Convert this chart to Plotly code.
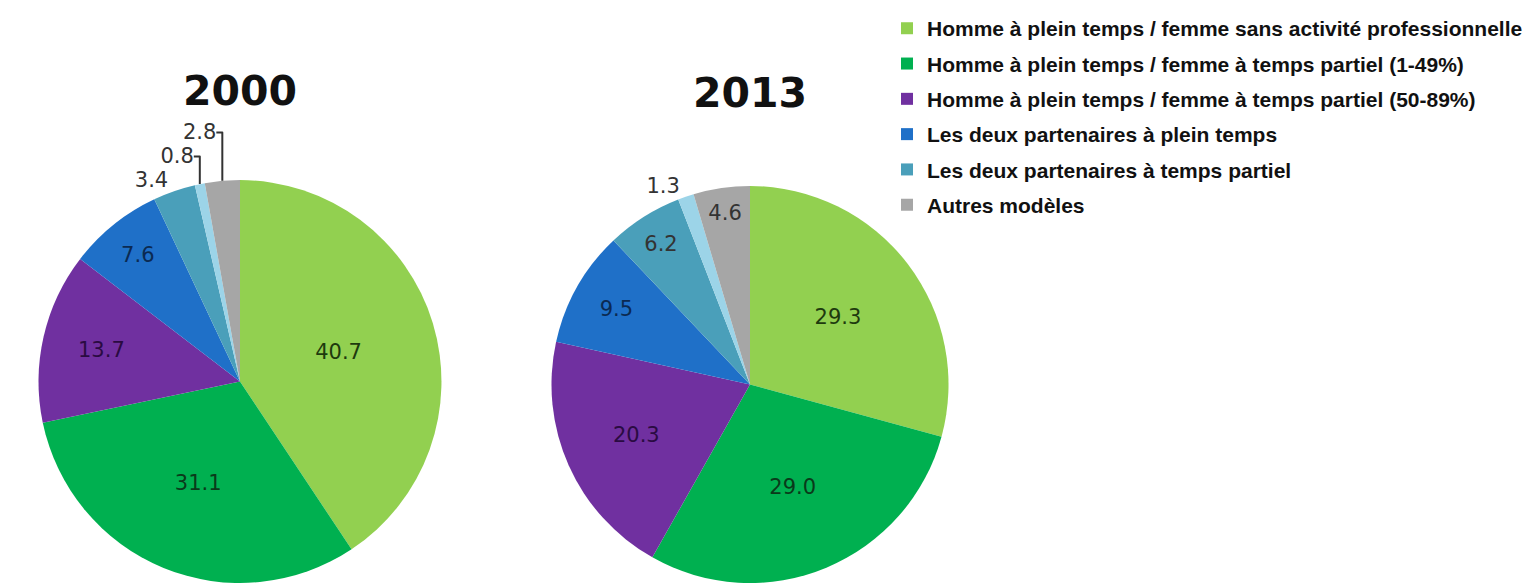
import plotly.graph_objects as go

categories = [
    "Homme à plein temps / femme sans activité professionnelle",
    "Homme à plein temps / femme à temps partiel (1-49%)",
    "Homme à plein temps / femme à temps partiel (50-89%)",
    "Les deux partenaires à plein temps",
    "Les deux partenaires à temps partiel",
    "Autre",
    "Autres modèles",
]
legend_flags = [True, True, True, True, True, False, True]
values_2000 = [40.7, 31.1, 13.7, 7.6, 3.4, 0.8, 2.8]
values_2013 = [29.3, 29.0, 20.3, 9.5, 6.2, 1.3, 4.6]
pos_2000 = ["inside", "inside", "inside", "inside", "outside", "outside", "outside"]
pos_2013 = ["inside", "inside", "inside", "inside", "inside", "outside", "inside"]
years = ["2000", "2013"]

colors = ["#92D050", "#00B050", "#7030A0", "#1F70C8", "#4A9FBA", "#9CD4E8", "#A6A6A6"]
text_colors = ["#1E3A0E", "#0A3A1A", "#2A0B42", "#0B2A52", "#333333", "#333333", "#333333"]

# page body has an 8px margin: figure coordinates are screen coordinates minus 8
W, H = 1530, 580

def dom(cx, cy, r):
    return dict(x=[(cx - r) / W, (cx + r) / W],
                y=[max(0, 1 - (cy + r) / H), min(1, 1 - (cy - r) / H)])

fig = go.Figure()
for vals, pos, (cx, cy, r) in [(values_2000, pos_2000, (232, 375, 205)),
                               (values_2013, pos_2013, (742, 378, 202))]:
    fig.add_trace(go.Pie(
        labels=categories, values=vals, sort=False, direction="clockwise", rotation=0,
        marker=dict(colors=colors, line=dict(width=0)),
        texttemplate=[f"{v:.1f}" for v in vals], textinfo="text",
        textposition=pos,
        insidetextfont=dict(family="DejaVu Sans", size=21, color=text_colors),
        outsidetextfont=dict(family="DejaVu Sans", size=21, color="#333333"),
        insidetextorientation="horizontal",
        showlegend=False, hoverinfo="label+value",
        domain=dom(cx, cy, r),
    ))

# legend entries
for i, (name, col, show) in enumerate(zip(categories, colors, legend_flags)):
    if not show:
        continue
    fig.add_trace(go.Scatter(
        x=[None], y=[None], mode="markers", name=f"<b>{name}</b>",
        marker=dict(symbol="square", size=12, color=col),
        legendgroup=f"g{i}", showlegend=True,
    ))

for yr, (cx, cy) in zip(years, [(232, 79), (742, 81)]):
    fig.add_annotation(text=f"<b>{yr}</b>", x=cx / W, y=1 - cy / H, xref="paper", yref="paper",
                       showarrow=False, font=dict(family="DejaVu Sans", size=41, color="#111111"),
                       xanchor="center", yanchor="middle")

fig.update_layout(
    width=W, height=H, margin=dict(l=0, r=0, t=0, b=0),
    paper_bgcolor="white", plot_bgcolor="white",
    xaxis=dict(visible=False), yaxis=dict(visible=False),
    legend=dict(x=879 / W, y=1 + 5 / H, xanchor="left", yanchor="top",
                font=dict(family="Liberation Sans", size=21, color="#111111"),
                tracegroupgap=5, itemwidth=30, bgcolor="rgba(0,0,0,0)"),
)

fig.write_html("out.html")
